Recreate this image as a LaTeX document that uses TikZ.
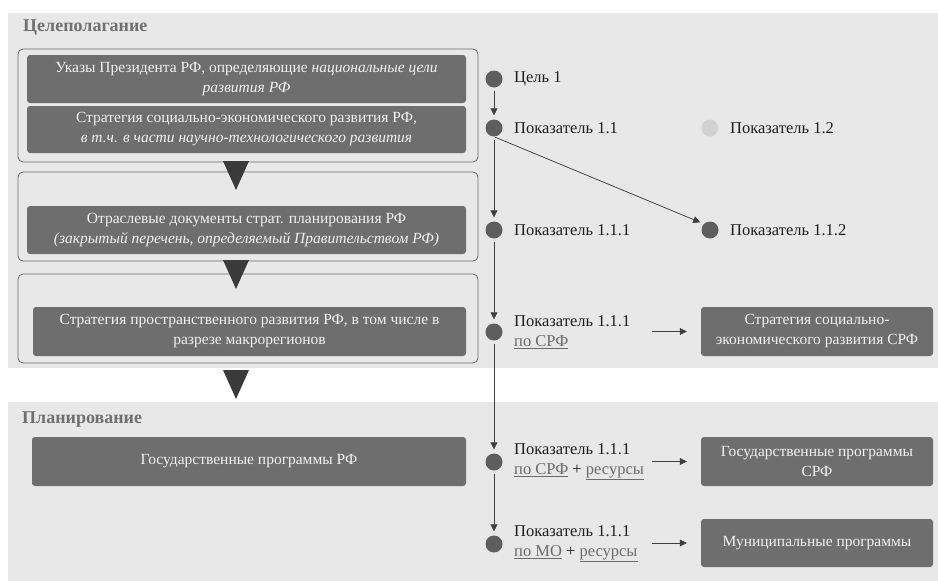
\documentclass[tikz,border=0pt]{standalone}
\usepackage{fontspec}
\setmainfont{Liberation Serif}
\usepackage{xcolor}
\usetikzlibrary{arrows.meta, positioning, calc}
\definecolor{bandgray}{HTML}{E8E8E8}
\definecolor{boxgray}{HTML}{6E6E6E}
\definecolor{dotgray}{HTML}{5E5E5E}
\definecolor{dotlight}{HTML}{D2D2D2}
\definecolor{framegray}{HTML}{6A6A6A}
\definecolor{trigray}{HTML}{3A3A3A}
\definecolor{titlegray}{HTML}{707070}
\definecolor{textblack}{HTML}{1E1E1E}
\definecolor{ulgray}{HTML}{6B6B6B}
\definecolor{arrowgray}{HTML}{404040}
\newcommand\ulg[1]{\textcolor{ulgray}{\underline{#1}}}

\begin{document}
\begin{tikzpicture}[x=1pt, y=-1pt,
      box/.style={fill=boxgray, rounded corners=3pt, text=white!95!black,
                  align=center, inner sep=0pt,
                  font=\fontsize{15.5}{20}\selectfont},
      frame/.style={draw=framegray, rounded corners=5pt, line width=0.8pt},
      dot/.style={circle, fill=dotgray, minimum size=17pt, inner sep=0pt},
      lbl/.style={anchor=west, align=left, text=textblack, inner sep=0pt,
                  font=\fontsize{16.5}{20}\selectfont},
      ttl/.style={anchor=west, text=titlegray, inner sep=0pt,
                  font=\fontsize{18}{20}\selectfont\bfseries},
      arr/.style={-{Triangle[length=7pt, width=7pt]}, draw=arrowgray,
                  fill=arrowgray, line width=0.7pt,
                  shorten <=3pt, shorten >=4pt},
      tri/.style={fill=trigray},
    ]
    \useasboundingbox (0,0) rectangle (938,581);

    % ── Backgrounds ──
    \fill[bandgray] (8,13) rectangle (938,368);
    \fill[bandgray] (8,402) rectangle (938,581);
    \node[ttl] (goal)  at (23,28)  {Целеполагание};
    \node[ttl] (plan)  at (22,420) {Планирование};

    % ── Left column: documents ──
    \draw[frame] (18,49)  rectangle (478,162);
    \draw[frame] (18,172) rectangle (478,261);
    \draw[frame] (18,274) rectangle (478,363);

    \node[box, minimum width=439, minimum height=48] (ukaz) at (246.5,79)
          {Указы Президента РФ, определяющие \textit{национальные цели}\\
           \textit{развития РФ}};
    \node[box, minimum width=439, minimum height=47] (ser) at (246.5,129.5)
          {Стратегия социально-экономического развития РФ,\\
           \textit{в т.ч. в части научно-технологического развития}};
    \node[box, minimum width=439, minimum height=48] (otr) at (246.5,230)
          {Отраслевые документы страт. планирования РФ\\
           \textit{(закрытый перечень, определяемый Правительством РФ)}};
    \node[box, minimum width=433, minimum height=49] (spr) at (249.5,331.5)
          {Стратегия пространственного развития РФ, в том числе в\\
           разрезе макрорегионов};
    \node[box, minimum width=434, minimum height=49] (gprf) at (249,461.5)
          {Государственные программы РФ};

    % down triangles between frames
    \foreach \y in {161,260,370}
      \fill[tri] (223,\y) -- ++(26,0) -- ++(-13,29) -- cycle;

    % ── Right column: indicators ──
    \node[dot] (c1)    at (494,79)  {};
    \node[dot] (p11)   at (494,128) {};
    \node[dot, fill=dotlight] (p12) at (710,128) {};
    \node[dot] (p111)  at (494,230) {};
    \node[dot] (p112)  at (710,230) {};
    \node[dot] (p111s) at (494,332) {};
    \node[dot] (p111g) at (494,462) {};
    \node[dot] (p111m) at (494,544) {};

    \node[lbl] (lc1)    at (514,79)  {Цель 1};
    \node[lbl] (lp11)   at (514,128) {Показатель 1.1};
    \node[lbl] (lp12)   at (730,128) {Показатель 1.2};
    \node[lbl] (lp111)  at (514,230) {Показатель 1.1.1};
    \node[lbl] (lp112)  at (730,230) {Показатель 1.1.2};
    \node[lbl] (lp111s) at (514,332) {Показатель 1.1.1\\ \ulg{по СРФ}};
    \node[lbl] (lp111g) at (514,462) {Показатель 1.1.1\\ \ulg{по СРФ} + \ulg{ресурсы}};
    \node[lbl] (lp111m) at (514,544) {Показатель 1.1.1\\ \ulg{по МО} + \ulg{ресурсы}};

    \draw[arr] (c1)    -- (p11);
    \draw[arr] (p11)   -- (p111);
    \draw[arr, shorten <=1pt] (p11.south) -- (p112.north west);
    \draw[arr] (p111)  -- (p111s);
    \draw[arr] (p111s) -- (p111g);
    \draw[arr] (p111g) -- (p111m);

    % ── Regional / municipal documents ──
    \node[box, minimum width=232, minimum height=49] (srf)  at (817,331.5)
          {Стратегия социально-\\экономического развития СРФ};
    \node[box, minimum width=232, minimum height=49] (gsrf) at (817,461.5)
          {Государственные программы\\СРФ};
    \node[box, minimum width=232, minimum height=48] (mun)  at (817,543)
          {Муниципальные программы};

    \foreach \t in {srf, gsrf, mun}
      \draw[arr] ([xshift=-52pt]\t.west) -- ([xshift=-10pt]\t.west);
\end{tikzpicture}
\end{document}
